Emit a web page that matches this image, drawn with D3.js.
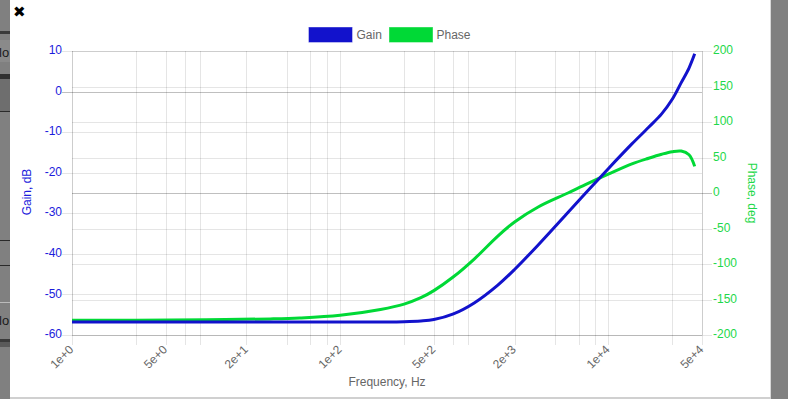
<!DOCTYPE html>
<html><head><meta charset="utf-8">
<script src="https://cdn.jsdelivr.net/npm/d3@7"></script>
<style>
html,body{margin:0;padding:0;background:#fff;}
svg{display:block;font-family:"Liberation Sans",Arial,Helvetica,sans-serif;}
</style></head>
<body>
<svg id="c" width="788" height="399"></svg>
<script>
// ---- data ----
const freqs = [1, 3, 10, 30, 50, 100, 200, 300, 400, 500, 700, 1000, 1500, 2000, 3000, 5000, 7000, 10000, 15000, 20000, 25000, 30000, 35000, 40000, 44100];
const gainDb = [-56.8, -56.8, -56.8, -56.8, -56.8, -56.8, -56.78, -56.72, -56.55, -56.2, -54.8, -52.1, -47.7, -43.85, -37.8, -29.8, -24.5, -19.0, -12.9, -8.8, -5.5, -1.9, 2.2, 5.8, 9.3];
const phaseDeg = [-179.3, -179.1, -178.6, -177.3, -176.0, -172.2, -164.0, -156.5, -147.5, -137.5, -118.0, -93.0, -60.6, -40.8, -19.7, 0, 13.2, 26.5, 41.0, 49.0, 54.6, 58.2, 59.1, 53.8, 37.5];
const seriesNames = ["Gain", "Phase"];
const xGridTicks = [1, 3, 5, 7, 9, 20, 40, 60, 80, 100, 300, 500, 700, 900, 2000, 4000, 6000, 8000, 10000, 30000, 50000];
const xLabelTicks = [1, 5, 20, 100, 500, 2000, 10000, 50000];
const gainTicks = [10, 0, -10, -20, -30, -40, -50, -60];
const phaseTicks = [200, 150, 100, 50, 0, -50, -100, -150, -200];

const gainColor = "#1212cc";
const phaseColor = "#00d936";
const gainText = "#1c1cdc";
const phaseText = "#1ed84a";

const svg = d3.select("#c");

// ---- page background (modal) ----
svg.append("rect").attr("x",0).attr("y",0).attr("width",788).attr("height",399).attr("fill","#fff");
const lg = svg.append("g");
lg.append("rect").attr("x",0).attr("y",0).attr("width",10).attr("height",399).attr("fill","#808080");
lg.append("rect").attr("x",0).attr("y",31).attr("width",10).attr("height",3).attr("fill","#3a3a3a");
lg.append("rect").attr("x",0).attr("y",40).attr("width",10).attr("height",22).attr("fill","#8a8a8a");
lg.append("rect").attr("x",0).attr("y",74).attr("width",10).attr("height",5).attr("fill","#303030");
lg.append("rect").attr("x",0).attr("y",79).attr("width",10).attr("height",32).attr("fill","#6e6e6e");
lg.append("rect").attr("x",0).attr("y",111).attr("width",10).attr("height",1).attr("fill","#2a2a2a");
lg.append("rect").attr("x",0).attr("y",240).attr("width",10).attr("height",1).attr("fill","#2a2a2a");
lg.append("rect").attr("x",0).attr("y",265).attr("width",10).attr("height",1).attr("fill","#2a2a2a");
lg.append("rect").attr("x",0).attr("y",302).attr("width",10).attr("height",1).attr("fill","#bbbbbb");
lg.append("rect").attr("x",0).attr("y",339).attr("width",10).attr("height",3).attr("fill","#3a3a3a");
lg.append("rect").attr("x",0).attr("y",342).attr("width",10).attr("height",5).attr("fill","#5a5a5a");
lg.append("text").attr("x",-1).attr("y",57).attr("font-size",13).attr("fill","#1a1a1a").text("lo");
lg.append("text").attr("x",-1).attr("y",325).attr("font-size",13).attr("fill","#1a1a1a").text("lo");
svg.append("rect").attr("x",771).attr("y",0).attr("width",17).attr("height",399).attr("fill","#808080");
svg.append("rect").attr("x",770).attr("y",0).attr("width",1).attr("height",399).attr("fill","#d8d8d8");
svg.append("rect").attr("x",10).attr("y",397).attr("width",761).attr("height",2).attr("fill","#d0d0d0");
svg.append("text").attr("x",13).attr("y",17).attr("font-family","DejaVu Sans").attr("font-size",15).attr("font-weight","bold").attr("fill","#000").text("\u2716");

// ---- scales ----
const x = d3.scaleLog().domain([1, 50000]).range([72, 702]);
const yG = d3.scaleLinear().domain([-60, 10]).range([335, 51]);
const yP = d3.scaleLinear().domain([-200, 200]).range([335, 51]);
const px = v => Math.round(v) + 0.5;

const grid = svg.append("g").attr("fill","none").attr("stroke-width",1);
grid.selectAll("line.vx").data(xGridTicks).join("line")
  .attr("x1", d => px(x(d))).attr("x2", d => px(x(d)))
  .attr("y1", 51).attr("y2", 345)
  .attr("stroke", "rgba(0,0,0,0.1)");
grid.selectAll("line.hg").data(gainTicks).join("line")
  .attr("x1", 62).attr("x2", 702)
  .attr("y1", d => px(yG(d))).attr("y2", d => px(yG(d)))
  .attr("stroke", d => d === 0 ? "rgba(0,0,0,0.25)" : "rgba(0,0,0,0.1)");
grid.selectAll("line.hp").data(phaseTicks).join("line")
  .attr("x1", 72).attr("x2", 712)
  .attr("y1", d => px(yP(d))).attr("y2", d => px(yP(d)))
  .attr("stroke", d => d === 0 ? "rgba(0,0,0,0.25)" : "rgba(0,0,0,0.1)");
grid.append("line").attr("x1",px(72)).attr("x2",px(72)).attr("y1",51).attr("y2",335).attr("stroke","rgba(0,0,0,0.1)");
grid.append("line").attr("x1",px(702)).attr("x2",px(702)).attr("y1",51).attr("y2",335).attr("stroke","rgba(0,0,0,0.1)");
grid.append("line").attr("x1",72).attr("x2",702).attr("y1",px(335)).attr("y2",px(335)).attr("stroke","rgba(0,0,0,0.1)");

// ---- tick labels ----
const fmt = d3.format(".0e");
svg.append("g").selectAll("text").data(xLabelTicks).join("text")
  .attr("transform", d => `translate(${x(d)},348) rotate(-45)`)
  .attr("text-anchor","end").attr("dominant-baseline","middle")
  .attr("font-size",12).attr("fill","#666").text(d => fmt(d));
svg.append("g").selectAll("text").data(gainTicks).join("text")
  .attr("x", 62).attr("y", d => yG(d))
  .attr("text-anchor","end").attr("dominant-baseline","middle")
  .attr("font-size",12).attr("fill",gainText).text(d => d);
svg.append("g").selectAll("text").data(phaseTicks).join("text")
  .attr("x", 713).attr("y", d => yP(d))
  .attr("text-anchor","start").attr("dominant-baseline","middle")
  .attr("font-size",12).attr("fill",phaseText).text(d => d);

svg.append("text").attr("transform","translate(31,192) rotate(-90)")
  .attr("text-anchor","middle").attr("font-size",12).attr("fill",gainText).text("Gain, dB");
svg.append("text").attr("transform","translate(748,193) rotate(90)")
  .attr("text-anchor","middle").attr("font-size",12).attr("fill",phaseText).text("Phase, deg");
svg.append("text").attr("x",387).attr("y",386)
  .attr("text-anchor","middle").attr("font-size",12).attr("fill","#666").text("Frequency, Hz");

// ---- lines ----
const pts = freqs.map((f,i) => ({f, g: gainDb[i], p: phaseDeg[i]}));
const lineP = d3.line().x(d => x(d.f)).y(d => yP(d.p)).curve(d3.curveCatmullRom.alpha(0.5));
const lineG = d3.line().x(d => x(d.f)).y(d => yG(d.g)).curve(d3.curveCatmullRom.alpha(0.5));
svg.append("path").attr("d", lineP(pts)).attr("fill","none").attr("stroke",phaseColor).attr("stroke-width",3);
svg.append("path").attr("d", lineG(pts)).attr("fill","none").attr("stroke",gainColor).attr("stroke-width",3);

// ---- legend ----
const legendX = [309, 389.5];
const legendTextX = [356.5, 436.5];
const leg = svg.append("g");
seriesNames.forEach((n,i) => {
  const c = i === 0 ? gainColor : phaseColor;
  leg.append("rect").attr("x",legendX[i]).attr("y",27.5).attr("width",43).attr("height",14.5)
    .attr("fill",c).attr("stroke",c).attr("stroke-opacity",0.6).attr("stroke-width",1);
  leg.append("text").attr("x",legendTextX[i]).attr("y",39).attr("font-size",12).attr("fill","#666").text(n);
});
</script>
</body></html>
